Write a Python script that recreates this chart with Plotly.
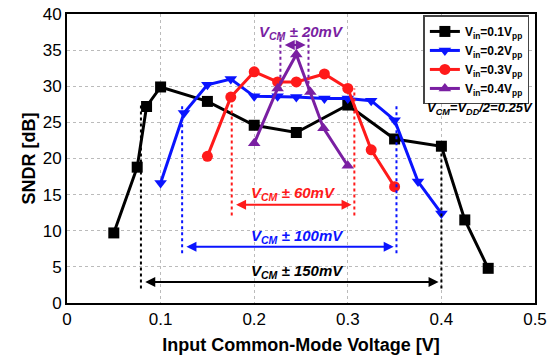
import plotly.graph_objects as go

# ---- data ----
x_01 = [0.05, 0.075, 0.085, 0.10, 0.15, 0.20, 0.245, 0.30, 0.35, 0.40, 0.425, 0.45]
y_01 = [9.7, 18.8, 27.2, 29.9, 27.9, 24.6, 23.6, 27.4, 22.7, 21.7, 11.5, 4.8]

x_02 = [0.10, 0.125, 0.15, 0.175, 0.20, 0.225, 0.245, 0.275, 0.30, 0.325, 0.35, 0.375, 0.40]
y_02 = [16.6, 26.3, 30.2, 31.0, 28.6, 28.6, 28.5, 28.3, 28.3, 28.0, 25.3, 16.8, 12.4]

x_03 = [0.15, 0.175, 0.20, 0.225, 0.245, 0.275, 0.30, 0.325, 0.35]
y_03 = [20.3, 28.5, 32.0, 30.6, 30.6, 31.7, 29.7, 21.2, 16.1]

x_04 = [0.20, 0.225, 0.245, 0.26, 0.274, 0.30]
y_04 = [22.1, 29.7, 34.4, 29.2, 24.2, 19.0]

series_names = ["V<sub>in</sub>=0.1V<sub>pp</sub>", "V<sub>in</sub>=0.2V<sub>pp</sub>",
                "V<sub>in</sub>=0.3V<sub>pp</sub>", "V<sub>in</sub>=0.4V<sub>pp</sub>"]
series_colors = ["#000000", "#0a14ff", "#ff1a1a", "#7a1fa2"]
series_symbols = ["square", "triangle-down", "circle", "triangle-up"]

x_ticks = [0, 0.1, 0.2, 0.3, 0.4, 0.5]
x_tick_labels = ["0", "0.1", "0.2", "0.3", "0.4", "0.5"]
y_ticks = [0, 5, 10, 15, 20, 25, 30, 35, 40]

# range annotations: label, color, left x, right x, arrow y, label x, label y, line top left, line top right, line bottom
ranges = [
    ("V<sub>CM</sub> ± 150mV", "#000000", 0.079, 0.40, 2.9, 0.246, 4.4, 27.5, 21.8, 2.0),
    ("V<sub>CM</sub> ± 100mV", "#0a14ff", 0.123, 0.352, 7.8, 0.246, 9.2, 27.3, 27.3, 6.9),
    ("V<sub>CM</sub> ± 60mV", "#ff1a1a", 0.176, 0.307, 13.6, 0.242, 15.2, 28.5, 29.7, 12.1),
    ("V<sub>CM</sub> ± 20mV", "#7a1fa2", 0.228, 0.258, 35.7, 0.251, 37.5, 37.2, 37.2, 29.5),
]

fig = go.Figure()
for xs, ys, name, col, sym in zip([x_01, x_02, x_03, x_04], [y_01, y_02, y_03, y_04],
                                  series_names, series_colors, series_symbols):
    fig.add_trace(go.Scatter(
        x=xs, y=ys, mode="lines+markers", name="<b>" + name + "</b>",
        line=dict(color=col, width=3),
        marker=dict(symbol=sym, size=11, color=col),
    ))

shapes = []
annotations = []
for label, col, xl, xr, ya, lx, ly, tl, tr, bot in ranges:
    shapes.append(dict(type="line", xref="x", yref="y", x0=xl, x1=xl, y0=bot, y1=tl,
                       line=dict(color=col, width=2, dash="dot")))
    shapes.append(dict(type="line", xref="x", yref="y", x0=xr, x1=xr, y0=bot, y1=tr,
                       line=dict(color=col, width=2, dash="dot")))
    annotations.append(dict(x=xr - 0.003, y=ya, ax=xl + 0.003, ay=ya, xref="x", yref="y",
                            axref="x", ayref="y", text="", showarrow=True,
                            arrowside="end+start", arrowhead=2, arrowsize=1,
                            arrowwidth=2, arrowcolor=col))
    annotations.append(dict(x=lx, y=ly, xref="x", yref="y", showarrow=False,
                            text="<b><i>" + label + "</i></b>",
                            font=dict(color=col, size=15, family="Arial, Liberation Sans")))

annotations.append(dict(x=0.441, y=26.9, xref="x", yref="y", showarrow=False,
                        text="<b><i>V<sub>CM</sub>=V<sub>DD</sub>/2=0.25V</i></b>",
                        font=dict(color="#000000", size=13, family="Arial, Liberation Sans")))

fig.update_layout(
    width=559, height=360,
    margin=dict(l=67, r=24, t=14, b=57, autoexpand=False),
    plot_bgcolor="white", paper_bgcolor="white",
    font=dict(family="Arial, Liberation Sans", color="black"),
    showlegend=True,
    legend=dict(x=0.988, y=0.995, xanchor="right", yanchor="top",
                bgcolor="white", bordercolor="#444", borderwidth=1.5,
                font=dict(size=12, family="Arial, Liberation Sans"),
                tracegroupgap=0, itemwidth=30),
    shapes=shapes, annotations=annotations,
    xaxis=dict(range=[0, 0.5], tickvals=x_ticks, ticktext=x_tick_labels,
               showline=True, mirror=True, linecolor="black", linewidth=2,
               showgrid=True, gridcolor="#bbbbbb", griddash="dot", gridwidth=1,
               zeroline=False, ticks="", automargin=False,
               tickfont=dict(size=17, family="Arial, Liberation Sans"),
               title=dict(text="<b>Input Common-Mode Voltage [V]</b>",
                          font=dict(size=18), standoff=10)),
    yaxis=dict(range=[0, 40], tickvals=y_ticks,
               showline=True, mirror=True, linecolor="black", linewidth=2,
               showgrid=True, gridcolor="#bbbbbb", griddash="dot", gridwidth=1,
               zeroline=False, ticks="", automargin=False,
               tickfont=dict(size=17, family="Arial, Liberation Sans"),
               title=dict(text="<b>SNDR [dB]</b>", font=dict(size=18), standoff=2)),
)
fig.update_xaxes(tickprefix="<b>", ticksuffix="</b>")
fig.update_yaxes(tickprefix="<b>", ticksuffix="</b>")

fig.write_html("out.html")
